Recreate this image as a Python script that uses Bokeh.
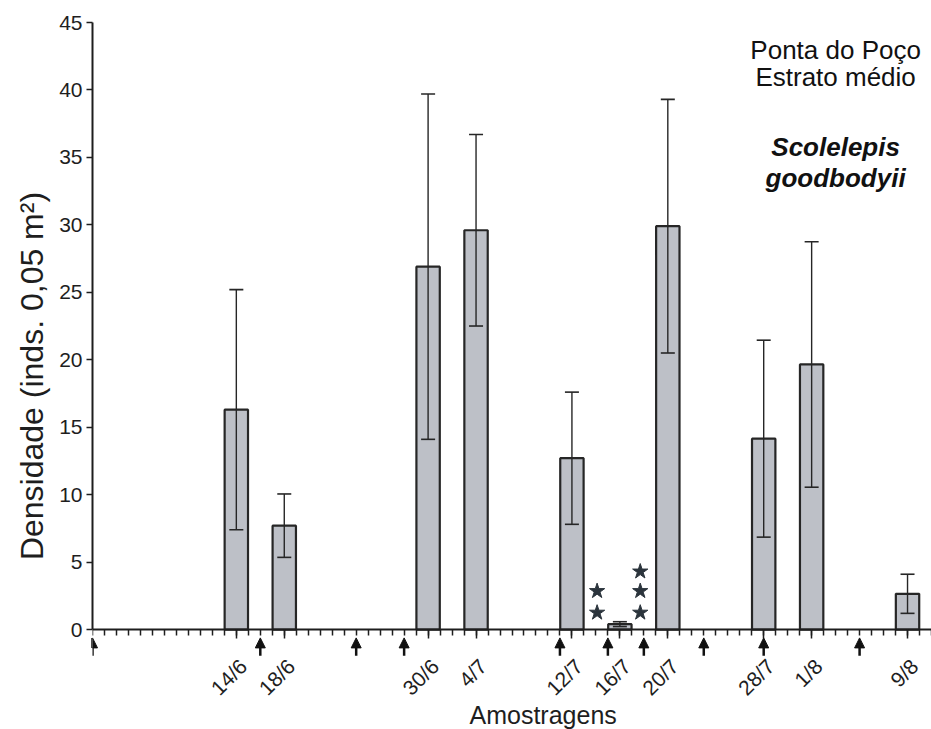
import math
from bokeh.plotting import figure
from bokeh.models import (FixedTicker, Whisker, ColumnDataSource, Label, Arrow,
                          NormalHead, TeeHead, Range1d)
from bokeh.core.properties import value
from bokeh.embed import file_html
from bokeh.resources import INLINE

# ---- data (x = days since 2 June) ----
dates = ["14/6", "18/6", "30/6", "4/7", "12/7", "16/7", "20/7", "28/7", "1/8", "9/8"]
days = [12, 16, 28, 32, 40, 44, 48, 56, 60, 68]
means = [16.3, 7.7, 26.9, 29.6, 12.7, 0.4, 29.9, 14.15, 19.65, 2.65]
sds = [8.9, 2.35, 12.8, 7.1, 4.9, 0.18, 9.4, 7.3, 9.1, 1.45]
arrow_days = [0, 14, 22, 26, 39, 43, 46, 51, 56, 64]
star_x = [42.1, 42.1, 45.7, 45.7, 45.7]
star_y = [1.25, 2.85, 1.25, 2.85, 4.3]
y_ticks = [0, 5, 10, 15, 20, 25, 30, 35, 40, 45]
all_days = list(range(0, 71))

FONT = "Liberation Sans"
INK = "#1e1e1e"

p = figure(width=931, height=729, x_range=Range1d(0, 70), y_range=Range1d(-7.41, 45),
           x_axis_location="above",
           output_backend="svg", toolbar_location=None,
           min_border_left=92, min_border_right=0, min_border_top=22, min_border_bottom=0)
p.outline_line_color = None
p.xgrid.visible = False
p.ygrid.visible = False
p.background_fill_color = "white"

# x axis drawn at y = 0, ticks pointing down
xa = p.xaxis[0]
xa.fixed_location = 0
xa.bounds = (0, 70)
xa.ticker = FixedTicker(ticks=days, minor_ticks=all_days)
xa.major_label_overrides = {d: "" for d in days}
xa.major_label_text_font_size = "0px"
xa.major_label_standoff = 0
xa.major_tick_out = 0
xa.major_tick_in = 9
xa.minor_tick_out = 0
xa.minor_tick_in = 6
xa.axis_line_width = 2
xa.axis_line_color = INK
xa.major_tick_line_color = INK
xa.major_tick_line_width = 1.5
xa.minor_tick_line_color = INK
xa.minor_tick_line_width = 1.5

ya = p.yaxis[0]
ya.bounds = (0, 45)
ya.ticker = FixedTicker(ticks=y_ticks, minor_ticks=[])
ya.major_label_text_font = FONT
ya.major_label_text_font_size = "21px"
ya.major_label_text_color = INK
ya.major_label_standoff = 4
ya.major_tick_out = 6
ya.major_tick_in = 0
ya.axis_line_width = 2
ya.axis_line_color = INK
ya.major_tick_line_color = INK
ya.major_tick_line_width = 1.5
ya.axis_label = "Densidade (inds. 0,05 m²)"
ya.axis_label_text_font = FONT
ya.axis_label_text_font_size = "32px"
ya.axis_label_text_font_style = "normal"
ya.axis_label_text_color = INK
ya.axis_label_standoff = 6

# bars
src = ColumnDataSource(dict(day=days, mean=means, date=dates,
                            lower=[m - s for m, s in zip(means, sds)],
                            upper=[m + s for m, s in zip(means, sds)]))
p.vbar(x="day", top="mean", bottom=0, width=1.95, source=src,
       fill_color="#bdc0c7", line_color="#262626", line_width=2.2)

w = Whisker(base="day", upper="upper", lower="lower", source=src,
            line_color="#262626", line_width=1.4, level="overlay",
            upper_head=TeeHead(size=14, line_color="#262626", line_width=1.6),
            lower_head=TeeHead(size=14, line_color="#262626", line_width=1.6))
p.add_layout(w)

# date labels under the ticks
lab_src = ColumnDataSource(dict(day=days, date=dates, y=[-2.45] * len(days)))
p.text(x="day", y="y", text="date", source=lab_src, angle=math.pi / 4,
       text_align="right", text_baseline="middle", x_offset=7,
       text_font=value(FONT), text_font_size="21px", text_color=INK)

# stars
p.scatter(star_x, star_y, marker="star", size=16, fill_color="#2b343c",
          line_color="#2b343c")

# arrows below the axis
asrc = ColumnDataSource(dict(x=arrow_days, y0=[-1.95] * len(arrow_days),
                             y1=[-0.62] * len(arrow_days)))
p.add_layout(Arrow(end=NormalHead(size=10, fill_color="#111111", line_color="#111111"),
                   x_start="x", y_start="y0", x_end="x", y_end="y1", source=asrc,
                   line_width=2.5, line_color="#111111"))

# annotations
for txt, yy, style in [("Ponta do Poço", 42.95, "normal"),
                       ("Estrato médio", 40.95, "normal"),
                       ("Scolelepis", 35.8, "bold italic"),
                       ("goodbodyii", 33.45, "bold italic")]:
    p.add_layout(Label(x=62.0, y=yy, text=txt, text_align="center",
                       text_baseline="alphabetic", text_font=FONT,
                       text_font_size="26px", text_font_style=style,
                       text_color="#111111"))

p.add_layout(Label(x=37.6, y=-6.3, text="Amostragens", text_align="center",
                   text_baseline="alphabetic", text_font=FONT,
                   text_font_size="25px", text_color=INK))

open("out.html", "w").write(file_html(p, INLINE))
